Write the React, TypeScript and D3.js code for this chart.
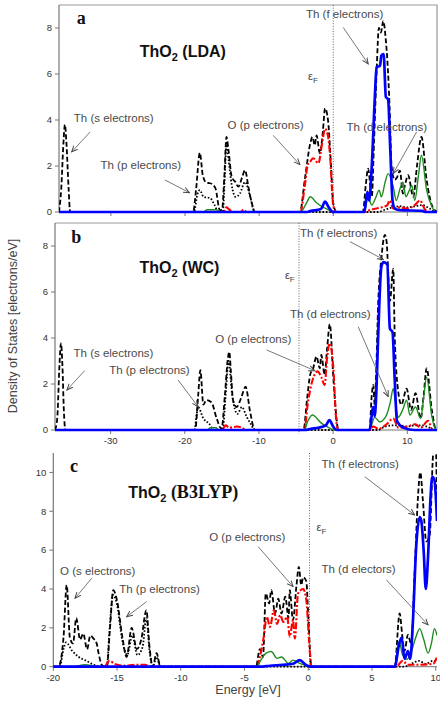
import React from 'react';
import * as d3 from 'd3';

type Pt = [number, number];

// ThO2 (LDA) partial densities of states, [energy eV, states/eV]
const ldaTotal: Pt[] = [
  [-37, 0], [-36.7, 1.0], [-36.4, 3.0], [-36.2, 3.8], [-36.0, 3.0], [-35.7, 1.0], [-35.5, 0],
  [-18.9, 0], [-18.5, 1.0], [-18.0, 2.57], [-17.6, 1.6], [-17.1, 1.27], [-16.6, 1.25], [-15.9, 1.04], [-15.3, 0.08],
  [-15.0, 0.1], [-14.7, 1.5], [-14.4, 3.26], [-14.1, 2.6], [-13.7, 1.53], [-13.2, 1.3], [-12.8, 1.1], [-12.3, 1.5],
  [-11.9, 1.82], [-11.45, 1.1], [-11.0, 0.4], [-10.55, 0],
  [-4.5, 0], [-3.8, 1.5], [-3.1, 2.98], [-2.8, 3.26], [-2.5, 2.9], [-2.25, 3.33], [-1.8, 2.55], [-1.4, 3.5],
  [-1.1, 4.5], [-0.7, 3.98], [-0.3, 2.0], [0, 0.38], [0.45, 0],
  [4.0, 0], [4.4, 1.2], [4.7, 1.89], [5.2, 0.66], [5.5, 3.0], [5.85, 6.1], [6.16, 8.0], [6.43, 7.8], [6.75, 8.3],
  [7.1, 7.45], [7.3, 6.6], [7.6, 4.6], [7.87, 1.96], [8.3, 1.4], [8.6, 1.5], [9.0, 1.8], [9.4, 0.8], [9.7, 1.2],
  [10.1, 1.6], [10.8, 0.66], [11.3, 2.0], [11.9, 3.26], [12.6, 1.4], [13.3, 0.3], [14, 0],
];
const ldaThP: Pt[] = [
  [-37, 0], [-18.8, 0], [-18.3, 0.8], [-18.0, 0.95], [-17.5, 0.66], [-16.6, 0.6], [-16.0, 0.3], [-15.5, 0],
  [-14.9, 0], [-14.6, 1.8], [-14.4, 3.0], [-14.1, 2.2], [-13.6, 1.0], [-13.2, 0.66], [-12.6, 0.8], [-11.9, 1.3],
  [-11.2, 0.66], [-10.6, 0], [6.0, 0], [7.0, 0.1], [8.0, 0.2], [9.0, 0.25], [10.0, 0.2], [11.0, 0.25],
  [12.0, 0.3], [13.0, 0.15], [13.8, 0], [14, 0],
];
const ldaOp: Pt[] = [
  [-37, 0], [-14.8, 0], [-14.4, 0.2], [-14.0, 0.1], [-13.5, 0], [-12.5, 0], [-12.1, 0.1], [-11.7, 0],
  [-4.4, 0], [-3.9, 1.0], [-3.4, 2.1], [-3.1, 2.2], [-2.7, 2.34], [-2.0, 2.12], [-1.5, 3.0], [-1.1, 3.62],
  [-0.7, 3.3], [-0.45, 2.55], [0, 0.3], [0.4, 0],
  [4.3, 0], [5.0, 0.1], [5.8, 0.15], [6.5, 0.2], [7.3, 0.3], [7.6, 0.5], [8.1, 0.15], [9.0, 0.2], [10.0, 0.15],
  [11.0, 0.3], [11.7, 0.5], [12.4, 0.1], [13, 0], [14, 0],
];
const ldaThD: Pt[] = [
  [-37, 0], [-17.5, 0], [-17.0, 0.1], [-15.8, 0.1], [-15.3, 0], [-4.4, 0], [-3.6, 0.4], [-3.1, 0.66],
  [-2.25, 0.4], [-1.6, 0.25], [-0.7, 0.1], [0, 0],
  [4.2, 0], [4.7, 0.66], [5.2, 0.3], [5.7, 0.6], [6.2, 0.95], [6.5, 0.66], [7.0, 1.3], [7.4, 1.67], [8.1, 1.1],
  [8.5, 0.5], [9.0, 1.0], [9.4, 1.3], [9.8, 0.66], [10.2, 0.9], [10.6, 1.15], [11.0, 0.5], [11.5, 1.6],
  [11.9, 2.47], [12.6, 0.95], [13.3, 0.25], [13.8, 0], [14, 0],
];
const ldaThF: Pt[] = [
  [-37, 0], [-3.5, 0], [-3.0, 0.05], [-2.0, 0.1], [-1.6, 0.15], [-1.1, 0.45], [-0.6, 0.2], [0, 0],
  [4.2, 0], [4.6, 0.88], [4.85, 0.5], [5.2, 2.0], [5.6, 4.9], [5.85, 6.3], [6.3, 6.35], [6.5, 6.8], [6.8, 6.87],
  [7.1, 5.0], [7.4, 4.9], [7.7, 2.7], [8.0, 0.5], [8.3, 0.15], [9, 0.08], [12, 0.05], [12.5, 0], [14, 0],
];

// ThO2 (WC)
const wcTotal: Pt[] = [
  [-37.5, 0], [-37.2, 0.5], [-36.9, 2.8], [-36.7, 3.77], [-36.5, 2.8], [-36.3, 0.8], [-36.1, 0],
  [-18.6, 0], [-18.2, 1.5], [-17.9, 2.6], [-17.5, 1.1], [-17.1, 1.3], [-16.4, 1.2], [-15.7, 0.5], [-15.05, 0.05],
  [-14.6, 1.5], [-14.2, 3.1], [-14.0, 3.4], [-13.8, 2.6], [-13.5, 1.3], [-13.0, 1.0], [-12.4, 1.4], [-11.8, 1.88],
  [-11.2, 0.8], [-10.55, 0],
  [-4.0, 0], [-3.5, 1.4], [-3.1, 2.4], [-2.7, 2.68], [-2.25, 3.19], [-1.8, 2.68], [-1.6, 3.26], [-1.15, 2.4],
  [-0.8, 3.6], [-0.45, 4.6], [0, 2.4], [0.45, 0.5], [0.7, 0],
  [4.9, 0], [5.2, 1.5], [5.4, 1.96], [5.6, 1.1], [5.8, 2.5], [6.07, 5.5], [6.5, 7.46], [6.97, 8.48], [7.2, 8.2],
  [7.65, 5.6], [8.1, 7.0], [8.3, 4.1], [8.76, 1.7], [9.2, 1.1], [9.9, 1.8], [10.5, 0.87], [11.1, 1.6],
  [11.8, 0.5], [12.2, 1.5], [12.6, 2.68], [13.3, 0.87], [13.9, 0], [14, 0],
];
const wcThP: Pt[] = [
  [-37.5, 0], [-18.7, 0], [-18.4, 0.7], [-18.2, 1.0], [-17.5, 0.5], [-16.8, 0.3], [-16.0, 0], [-14.9, 0],
  [-14.5, 1.5], [-14.1, 3.0], [-13.6, 1.5], [-12.9, 0.7], [-12.3, 1.0], [-11.7, 0.6], [-11.0, 0.2], [-10.6, 0],
  [6, 0], [7.0, 0.15], [8.0, 0.2], [9.0, 0.2], [10.0, 0.15], [11.0, 0.2], [12.0, 0.2], [13.0, 0.1], [13.6, 0], [14, 0],
];
const wcOp: Pt[] = [
  [-37.5, 0], [-15.0, 0], [-14.5, 0.2], [-14.0, 0.1], [-13.0, 0.15], [-12.3, 0.1], [-11.8, 0],
  [-3.9, 0], [-3.4, 1.2], [-2.7, 2.25], [-2.1, 2.55], [-1.6, 2.3], [-1.15, 1.96], [-0.8, 3.2], [-0.45, 3.77],
  [0, 2.8], [0.45, 0.3], [0.7, 0],
  [5.0, 0], [5.4, 0.15], [6.1, 0.05], [7.2, 0.25], [8.1, 0.5], [8.8, 0.1], [10.0, 0.15], [11.1, 0.25],
  [11.8, 0.1], [12.8, 0.4], [13.4, 0], [14, 0],
];
const wcThD: Pt[] = [
  [-37.5, 0], [-17.0, 0], [-16.5, 0.1], [-15.8, 0.1], [-15.4, 0], [-3.9, 0], [-3.4, 0.4], [-2.8, 0.65],
  [-1.6, 0.3], [-0.6, 0.1], [0.3, 0],
  [4.9, 0], [5.6, 0.55], [6.3, 0.35], [6.8, 0.45], [7.2, 0.65], [7.7, 1.2], [8.1, 1.8], [8.4, 1.2], [8.76, 0.55],
  [9.4, 0.9], [9.9, 1.3], [10.35, 0.65], [11.1, 1.0], [11.8, 0.5], [12.2, 1.4], [12.6, 2.3], [13.3, 0.6],
  [13.9, 0], [14, 0],
];
const wcThF: Pt[] = [
  [-37.5, 0], [-3.8, 0], [-3.0, 0.05], [-2.0, 0.1], [-1.0, 0.2], [-0.5, 0.43], [0, 0.15], [0.5, 0],
  [4.9, 0], [5.4, 1.0], [5.6, 0.6], [5.8, 1.5], [6.07, 4.1], [6.5, 7.1], [6.8, 7.3], [7.3, 7.2], [7.65, 4.4],
  [8.0, 4.26], [8.3, 2.2], [8.6, 0.4], [9.5, 0.1], [11, 0], [14, 0],
];

// ThO2 (B3LYP)
const b3Total: Pt[] = [
  [-20, 0], [-19.6, 0], [-19.2, 1.5], [-18.95, 4.2], [-18.7, 1.5], [-18.45, 1.2], [-18.2, 2.5], [-17.9, 1.4],
  [-17.65, 1.7], [-17.35, 0.9], [-17.1, 1.6], [-16.85, 1.45], [-16.6, 1.2], [-16.45, 0.7], [-16.2, 0.1], [-15.9, 0],
  [-15.8, 0], [-15.55, 2.0], [-15.3, 3.94], [-15.0, 3.4], [-14.6, 1.6], [-14.25, 0.5], [-13.85, 2.0], [-13.45, 0.9],
  [-13.1, 1.4], [-12.7, 2.9], [-12.45, 1.0], [-12.2, 0], [-11.9, 0.7], [-11.6, 0],
  [-4.1, 0], [-3.8, 0.9], [-3.55, 0.5], [-3.33, 3.77], [-3.07, 3.26], [-2.9, 3.94], [-2.6, 2.74], [-2.35, 3.5],
  [-2.1, 2.74], [-1.8, 3.6], [-1.55, 2.5], [-1.45, 3.94], [-1.2, 2.4], [-0.92, 4.2], [-0.74, 5.14], [-0.55, 4.2],
  [-0.4, 4.6], [-0.15, 4.4], [0, 2.6], [0.25, 0],
  [6.78, 0], [7.17, 2.74], [7.37, 1.64], [7.55, 0.8], [7.82, 1.64], [8.08, 1.16], [8.35, 4.9], [8.6, 8.66],
  [8.79, 10.0], [9.0, 8.5], [9.26, 6.45], [9.53, 6.8], [9.78, 10.8], [9.9, 11.5], [10.0, 11.5], [10.1, 8],
];
const b3ThP: Pt[] = [
  [-20, 0], [-19.5, 0], [-19.2, 0.9], [-19.0, 1.25], [-18.5, 0.8], [-18.0, 0.5], [-17.4, 0.3], [-16.8, 0.1],
  [-16.3, 0], [-15.8, 0], [-15.6, 1.8], [-15.3, 3.7], [-15.0, 3.2], [-14.6, 1.4], [-14.2, 0.6], [-13.8, 1.6],
  [-13.4, 0.6], [-13.0, 1.0], [-12.7, 2.5], [-12.45, 0.8], [-12.2, 0], [-11.9, 0.5], [-11.6, 0],
  [7.5, 0], [8.7, 0.3], [9.2, 0.15], [9.8, 0.3], [10.1, 0.2],
];
const b3Op: Pt[] = [
  [-20, 0], [-16.0, 0], [-15.6, 0.3], [-15.2, 0.15], [-14.5, 0.05], [-13.5, 0.1], [-12.8, 0.1], [-12.3, 0],
  [-4.0, 0], [-3.8, 0.5], [-3.5, 1.5], [-3.25, 2.57], [-3.0, 2.05], [-2.7, 2.9], [-2.45, 2.2], [-2.2, 2.65],
  [-1.95, 2.3], [-1.65, 2.57], [-1.45, 1.54], [-1.2, 2.4], [-1.05, 1.45], [-0.8, 3.77], [-0.4, 4.0],
  [-0.15, 3.43], [0.06, 1.37], [0.25, 0],
  [6.8, 0], [7.0, 0.05], [7.4, 0.3], [7.8, 0.1], [8.7, 0.1], [9.8, 0.15], [10.1, 0.5],
];
const b3ThD: Pt[] = [
  [-20, 0], [-18.5, 0], [-17.5, 0.1], [-16.5, 0], [-4.0, 0], [-3.8, 0.25], [-3.3, 0.7], [-2.9, 0.78],
  [-2.45, 0.43], [-2.1, 0.5], [-1.55, 0.17], [-1.2, 0.34], [-0.67, 0.17], [-0.15, 0.05], [0.2, 0],
  [6.78, 0], [7.13, 1.3], [7.4, 0.6], [7.75, 0.38], [8.1, 0.8], [8.43, 1.5], [8.74, 1.96], [9.06, 1.4],
  [9.4, 0.7], [9.66, 1.2], [9.9, 1.96], [10.1, 1.6],
];
const b3ThF: Pt[] = [
  [-20, 0], [-3.8, 0], [-3.0, 0.05], [-2.0, 0.1], [-1.2, 0.15], [-0.67, 0.34], [-0.2, 0.1], [0.2, 0],
  [6.78, 0], [7.13, 1.16], [7.33, 1.5], [7.55, 0.4], [7.82, 0.8], [8.0, 0.4], [8.2, 2.2], [8.47, 6.2],
  [8.74, 7.7], [8.87, 7.5], [9.06, 5.9], [9.22, 4.0], [9.4, 5.7], [9.6, 8.8], [9.73, 9.77], [9.9, 9.6], [10.1, 7.5],
];

const xTicksAB = [-30, -20, -10, 0, 10];
const xTicksC = [-20, -15, -10, -5, 0, 5, 10];
const yTicksAB = [0, 2, 4, 6, 8];
const yTicksC = [0, 2, 4, 6, 8, 10];

const styles: Record<string, { stroke: string; width: number; dash?: string }> = {
  total: { stroke: '#000', width: 1.8, dash: '5,2.5' },
  thp: { stroke: '#000', width: 1.8, dash: '1.6,1.8' },
  op: { stroke: '#ff0000', width: 2.1, dash: '7,2,2,2' },
  thd: { stroke: '#1e8c1e', width: 1.4 },
  thf: { stroke: '#0000ff', width: 2.7 },
};

const SANS = 'Arial, "Liberation Sans", Helvetica, sans-serif';
const SERIF = '"Times New Roman", "Liberation Serif", Times, serif';
const LABEL = '#4a4a4a';

type Note = { text: string; at: Pt; from: Pt; to: Pt };

function Panel(props: any) {
  const { id, left, right, top, bottom, xDomain, yMax, xTicks, xLabels, yTicks, series, fermi,
    letter, letterAt, titleAt, titleTail, titleSerif, notes, eps, frame } = props;
  const x = d3.scaleLinear().domain(xDomain).range([left, right]);
  const y = d3.scaleLinear().domain([0, yMax]).range([bottom, top]);
  const line = d3.line<Pt>().x(d => x(d[0])).y(d => y(d[1])).curve(d3.curveMonotoneX);

  return (
    <g>
      <defs>
        <clipPath id={'clip-' + id}>
          <rect x={left} y={top} width={right - left} height={bottom - top + 2} />
        </clipPath>
      </defs>
      {frame && (
        <path d={`M${left},${top}H${right}V${bottom}`} fill="none" stroke="#9a9a9a" strokeWidth={1.2} />
      )}
      <line x1={left} x2={left} y1={top} y2={bottom} stroke="#777" strokeWidth={1.2} />
      <line x1={left} x2={right} y1={bottom} y2={bottom} stroke="#777" strokeWidth={1} />
      {yTicks.map((t: number) => (
        <g key={'y' + t}>
          <line x1={left - 4} x2={left} y1={y(t)} y2={y(t)} stroke="#777" />
          <text x={left - 7} y={y(t) + 3.3} textAnchor="end" fontSize={9.5} fontFamily={SANS} fill="#333">{t}</text>
        </g>
      ))}
      {xTicks.map((t: number) => (
        <g key={'x' + t}>
          <line x1={x(t)} x2={x(t)} y1={bottom} y2={bottom + 4} stroke="#777" />
          {xLabels && (
            <text x={x(t)} y={bottom + 14} textAnchor="middle" fontSize={9.5} fontFamily={SANS} fill="#333">{t}</text>
          )}
        </g>
      ))}
      <line x1={x(fermi)} x2={x(fermi)} y1={top} y2={bottom + 4} stroke="#555" strokeWidth={0.9} strokeDasharray="1,1.6" />
      <g clipPath={`url(#clip-${id})`}>
        {series.map((s: any, i: number) => (
          <path key={i} d={line(s.data) || ''} fill="none" stroke={styles[s.kind].stroke}
            strokeWidth={styles[s.kind].width} strokeDasharray={styles[s.kind].dash} strokeLinejoin="round" />
        ))}
      </g>
      <text x={x(letterAt[0])} y={y(letterAt[1])} fontSize={18} fontWeight="bold" fontFamily={SERIF} fill="#111">{letter}</text>
      <text x={x(titleAt[0])} y={y(titleAt[1])} fontSize={16} fontWeight="bold" fontFamily={SANS} fill="#111">
        ThO<tspan dy={4} fontSize={11}>2</tspan>
        <tspan dy={-4} fontFamily={titleSerif ? SERIF : SANS} fontSize={titleSerif ? 18 : 16}>{' ' + titleTail}</tspan>
      </text>
      <text x={x(eps[0])} y={y(eps[1])} fontSize={11} fontFamily={SANS} fill="#444">
        ε<tspan dy={3} fontSize={8}>F</tspan>
      </text>
      {notes.map((n: Note, i: number) => (
        <g key={'n' + i}>
          <text x={x(n.at[0])} y={y(n.at[1])} fontSize={11.5} fontFamily={SANS} fill={LABEL}>{n.text}</text>
          <line x1={x(n.from[0])} y1={y(n.from[1])} x2={x(n.to[0])} y2={y(n.to[1])}
            stroke="#555" strokeWidth={0.8} markerEnd="url(#arrowhead)" />
        </g>
      ))}
    </g>
  );
}

export default function App() {
  return (
    <svg width={440} height={701} style={{ position: 'absolute', left: 0, top: 0, background: '#fff' }}>
      <defs>
        <marker id="arrowhead" viewBox="0 0 8 8" refX={7} refY={4} markerWidth={7} markerHeight={7}
          markerUnits="userSpaceOnUse" orient="auto">
          <path d="M0,1 L7,4 L0,7" fill="none" stroke="#444" strokeWidth={1.1} />
        </marker>
      </defs>
      <rect width={440} height={701} fill="#fff" />

      <Panel id="a" left={59} right={437} top={5} bottom={212} xDomain={[-37, 14]} yMax={9}
        xTicks={xTicksAB} xLabels={false} yTicks={yTicksAB} fermi={0} frame
        series={[
          { kind: 'total', data: ldaTotal }, { kind: 'thp', data: ldaThP }, { kind: 'op', data: ldaOp },
          { kind: 'thd', data: ldaThD }, { kind: 'thf', data: ldaThF },
        ]}
        letter="a" letterAt={[-34.6, 8.17]} titleAt={[-26.1, 6.72]} titleTail="(LDA)"
        eps={[-3.4, 5.76]}
        notes={[
          { text: 'Th (s electrons)', at: [-35.0, 3.91], from: [-32.8, 3.48], to: [-35.3, 2.61] },
          { text: 'Th (p electrons)', at: [-31.4, 1.89], from: [-22.7, 1.39], to: [-19.4, 0.84] },
          { text: 'O (p electrons)', at: [-14.25, 3.62], from: [-8.1, 3.33], to: [-4.5, 2.06] },
          { text: 'Th (f electrons)', at: [-3.68, 8.43], from: [1.35, 8.02], to: [4.72, 6.44] },
          { text: 'Th (d electrons)', at: [1.8, 3.52], from: [11.25, 3.48], to: [8.1, 1.68] },
        ]} />

      <Panel id="b" left={55} right={437} top={223} bottom={430} xDomain={[-37.5, 14]} yMax={9}
        xTicks={xTicksAB} xLabels yTicks={yTicksAB} fermi={-4.6} frame
        series={[
          { kind: 'total', data: wcTotal }, { kind: 'thp', data: wcThP }, { kind: 'op', data: wcOp },
          { kind: 'thd', data: wcThD }, { kind: 'thf', data: wcThF },
        ]}
        letter="b" letterAt={[-35.3, 8.12]} titleAt={[-26.1, 6.81]} titleTail="(WC)"
        eps={[-6.5, 6.57]}
        notes={[
          { text: 'Th (s electrons)', at: [-35.0, 3.16], from: [-33.5, 2.58], to: [-35.9, 1.74] },
          { text: 'Th (p electrons)', at: [-30.2, 2.43], from: [-20.9, 2.17], to: [-18.2, 1.01] },
          { text: 'O (p electrons)', at: [-15.9, 3.77], from: [-8.97, 3.48], to: [-2.47, 2.58] },
          { text: 'Th (f electrons)', at: [-4.48, 8.4], from: [2.27, 8.19], to: [6.75, 7.42] },
          { text: 'Th (d electrons)', at: [-5.82, 4.86], from: [3.38, 4.49], to: [7.42, 1.45] },
        ]} />

      <Panel id="c" left={53.3} right={437} top={453} bottom={666.7} xDomain={[-20, 10.1]} yMax={11}
        xTicks={xTicksC} xLabels yTicks={yTicksC} fermi={0.1} frame={false}
        series={[
          { kind: 'total', data: b3Total }, { kind: 'thp', data: b3ThP }, { kind: 'op', data: b3Op },
          { kind: 'thd', data: b3ThD }, { kind: 'thf', data: b3ThF },
        ]}
        letter="c" letterAt={[-18.69, 10.04]} titleAt={[-14.12, 8.67]} titleTail="(B3LYP)" titleSerif
        eps={[0.65, 6.98]}
        notes={[
          { text: 'O (s electrons)', at: [-19.47, 4.72], from: [-16.99, 4.55], to: [-18.3, 3.52] },
          { text: 'Th (p electrons)', at: [-14.83, 3.78], from: [-12.68, 3.35], to: [-14.25, 2.57] },
          { text: 'O (p electrons)', at: [-7.77, 6.48], from: [-3.93, 6.18], to: [-1.19, 4.12] },
          { text: 'Th (f electrons)', at: [1.04, 10.21], from: [4.43, 9.78], to: [8.35, 7.81] },
          { text: 'Th (d electors)', at: [1.04, 4.81], from: [6.14, 4.46], to: [9.4, 2.15] },
        ]} />

      <text x={248} y={694} textAnchor="middle" fontSize={12.5} fontFamily={SANS} fill="#444">Energy [eV]</text>
      <text transform="translate(17,326) rotate(-90)" textAnchor="middle" fontSize={12.5} fontFamily={SANS} fill="#444">
        Density of States [electrons/eV]
      </text>
    </svg>
  );
}
